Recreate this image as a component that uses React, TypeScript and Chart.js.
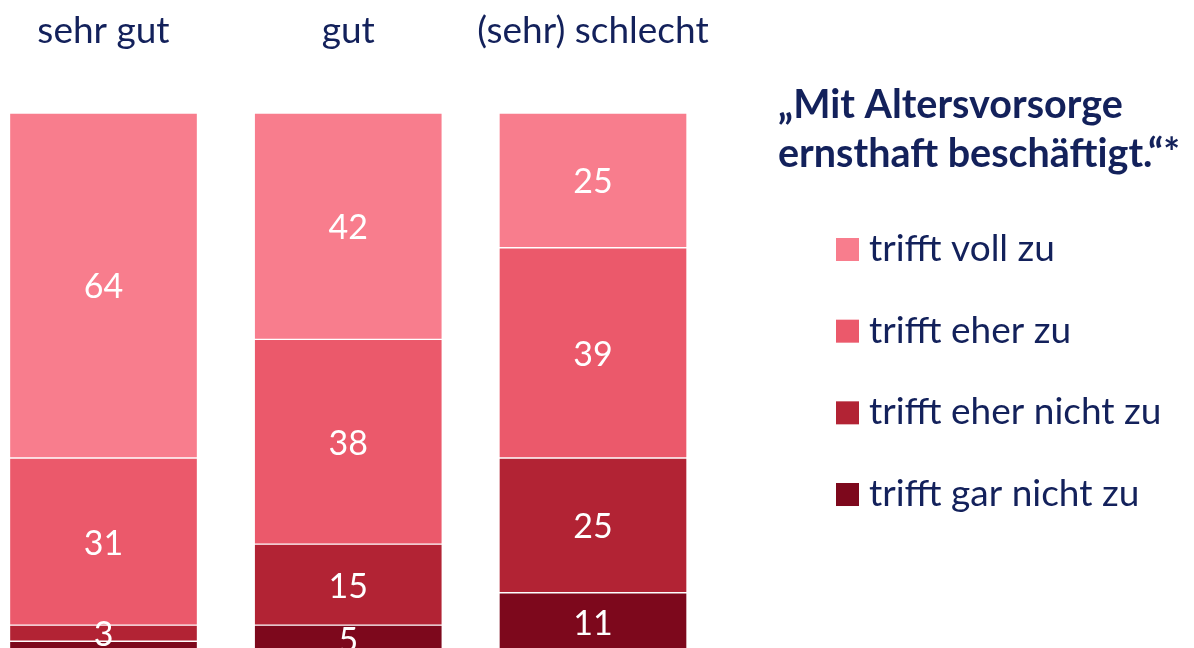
import React, { useEffect, useRef } from "react";
import { Chart, registerables } from "chart.js";

Chart.register(...registerables);

const categories = ["sehr gut", "gut", "(sehr) schlecht"];
const seriesLabels = ["trifft voll zu", "trifft eher zu", "trifft eher nicht zu", "trifft gar nicht zu"];
const trifftVoll = [64, 42, 25];
const trifftEher = [31, 38, 39];
const trifftEherNicht = [3, 15, 25];
const trifftGarNicht = [2, 5, 11];
const colors = ["#F87D8D", "#EB596B", "#B22334", "#7D081C"];
const legendTitle = ["\u201EMit Altersvorsorge", "ernsthaft besch\u00E4ftigt.\u201C*"];

const FONT = "Lato, 'Open Sans', sans-serif";
const NAVY = "#13215B";

const valueLabels = {
  id: "valueLabels",
  afterDatasetsDraw(chart: any) {
    const ctx = chart.ctx;
    ctx.save();
    ctx.fillStyle = "#FFFFFF";
    ctx.font = `34px ${FONT}`;
    ctx.textAlign = "center";
    ctx.textBaseline = "alphabetic";
    chart.data.datasets.forEach((ds: any, di: number) => {
      const meta = chart.getDatasetMeta(di);
      meta.data.forEach((el: any, i: number) => {
        const v = ds.data[i];
        if (v < 3) return; // too small to label (not shown in the original)
        const { x, y, base } = el.getProps(["x", "y", "base"], true);
        ctx.fillText(String(v), x, (y + base) / 2 + 13);
      });
    });
    ctx.restore();
  },
};

const categoryLabels = {
  id: "categoryLabels",
  afterDraw(chart: any) {
    const ctx = chart.ctx;
    const xs = chart.scales.x;
    ctx.save();
    ctx.fillStyle = NAVY;
    ctx.font = `37px ${FONT}`;
    ctx.textAlign = "center";
    ctx.textBaseline = "alphabetic";
    chart.data.labels.forEach((lab: string, i: number) => {
      ctx.fillText(lab, xs.getPixelForValue(i), 43);
    });
    ctx.restore();
  },
};

const sideLegend = {
  id: "sideLegend",
  afterDraw(chart: any) {
    const ctx = chart.ctx;
    ctx.save();
    ctx.fillStyle = NAVY;
    ctx.textAlign = "left";
    ctx.textBaseline = "alphabetic";
    ctx.font = `bold 39.5px ${FONT}`;
    ctx.fillText(legendTitle[0], 778, 118);
    ctx.fillText(legendTitle[1], 778, 167);
    ctx.font = `37px ${FONT}`;
    chart.data.datasets.forEach((ds: any, i: number) => {
      const base = 261 + i * 81.67;
      ctx.fillStyle = ds.backgroundColor;
      ctx.fillRect(836, base - 23, 23, 23);
      ctx.fillStyle = NAVY;
      ctx.fillText(ds.label, 869, base);
    });
    ctx.restore();
  },
};

export default function App() {
  const ref = useRef<HTMLCanvasElement | null>(null);
  useEffect(() => {
    if (!ref.current) return;
    const values = [trifftVoll, trifftEher, trifftEherNicht, trifftGarNicht];
    const chart = new Chart(ref.current, {
      type: "bar",
      data: {
        labels: categories,
        datasets: seriesLabels.map((label, i) => ({
          label,
          data: values[i],
          backgroundColor: colors[i],
          borderColor: "rgba(255,255,255,0.25)",
          borderWidth: 1,
          borderSkipped: false,
          barThickness: 188,
          clip: false as any,
        })),
      },
      options: {
        responsive: false,
        animation: false,
        layout: { padding: { left: 103.5, right: 601, top: 113, bottom: 28 } },
        plugins: { legend: { display: false }, tooltip: { enabled: false } },
        scales: {
          x: {
            display: false,
            stacked: true,
            offset: false,
          },
          y: {
            stacked: true,
            reverse: true,
            min: 0,
            max: 100,
            display: false,
          },
        },
      },
      plugins: [valueLabels, categoryLabels, sideLegend],
    });
    return () => chart.destroy();
  }, []);
  return (
    <div style={{ position: "fixed", left: 0, top: 0, width: 1194, height: 648, overflow: "hidden", background: "#fff" }}>
      <canvas ref={ref} width={1194} height={680} style={{ display: "block", width: 1194, height: 680 }} />
    </div>
  );
}
